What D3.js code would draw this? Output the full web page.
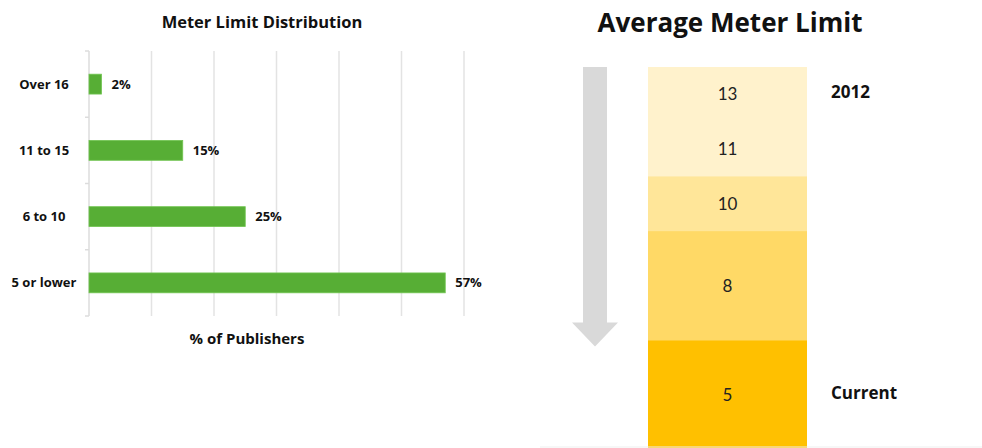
<!DOCTYPE html>
<html>
<head>
<meta charset="utf-8">
<script src="https://cdn.jsdelivr.net/npm/d3@7"></script>
<style>
  body { margin: 0; background: #fff; }
  svg { display: block; font-family: "Open Sans", Lato, sans-serif; }
</style>
</head>
<body>
<script>
// Meter limit distribution (left chart)
const categories = ['Over 16', '11 to 15', '6 to 10', '5 or lower']
const shares = [2, 15, 25, 57]
const xTicks = [0, 10, 20, 30, 40, 50, 60]

// Average meter limit (right column), top to bottom
const limits = [13, 11, 10, 8, 5]
const limitTier = [0, 0, 1, 2, 3]
const limitSpan = [1, 1, 1, 2, 2]
const sideLabels = [{ text: '2012', row: 0 }, { text: 'Current', row: 4 }]

const width = 982, height = 448

const svg = d3.select('body').append('svg')
  .attr('width', width)
  .attr('height', height)

// ---------- left bar chart ----------
const margin = { top: 51, left: 89 }
const plotW = 375, plotH = 265

const x = d3.scaleLinear().domain([0, 60]).range([0, plotW])
const y = d3.scaleBand()
  .domain(categories)
  .range([0, plotH])
  .paddingInner(0.7)
  .paddingOuter(0.35)

const left = svg.append('g')
  .attr('transform', `translate(${margin.left}, ${margin.top})`)

// gridlines
left.append('g')
  .selectAll('line')
  .data(xTicks.slice(1))
  .enter().append('line')
  .attr('x1', d => x(d))
  .attr('x2', d => x(d))
  .attr('y1', 0)
  .attr('y2', plotH)
  .attr('stroke', '#e3e3e3')
  .attr('stroke-width', 1.5)

// left axis line with ticks at band boundaries
left.append('line')
  .attr('x1', 0).attr('x2', 0)
  .attr('y1', 0).attr('y2', plotH)
  .attr('stroke', '#dcdcdc')
  .attr('stroke-width', 1.5)

const boundaries = d3.range(categories.length + 1).map(i => i * y.step())
left.append('g')
  .selectAll('line')
  .data(boundaries)
  .enter().append('line')
  .attr('x1', -4).attr('x2', 0)
  .attr('y1', d => d).attr('y2', d => d)
  .attr('stroke', '#dcdcdc')
  .attr('stroke-width', 1.5)

// bars
left.append('g')
  .selectAll('rect')
  .data(shares)
  .enter().append('rect')
  .attr('x', 0)
  .attr('y', (d, i) => y(categories[i]))
  .attr('width', d => x(d))
  .attr('height', y.bandwidth())
  .attr('fill', '#57ae35')
  .attr('stroke', '#72c552')
  .attr('stroke-width', 0.8)

// value labels
left.append('g')
  .selectAll('text')
  .data(shares)
  .enter().append('text')
  .attr('x', d => x(d) + 10)
  .attr('y', (d, i) => y(categories[i]) + y.bandwidth() / 2)
  .attr('dy', '0.35em')
  .attr('font-size', 13)
  .attr('font-weight', 'bold')
  .attr('fill', '#111')
  .text(d => d + '%')

// category labels
left.append('g')
  .selectAll('text')
  .data(categories)
  .enter().append('text')
  .attr('x', 44 - margin.left)
  .attr('y', d => y(d) + y.bandwidth() / 2)
  .attr('dy', '0.35em')
  .attr('text-anchor', 'middle')
  .attr('font-size', 13)
  .attr('font-weight', 'bold')
  .attr('fill', '#111')
  .text(d => d)

svg.append('text')
  .attr('x', 262)
  .attr('y', 28)
  .attr('text-anchor', 'middle')
  .attr('font-size', 16.5)
  .attr('font-weight', 'bold')
  .attr('fill', '#111')
  .text('Meter Limit Distribution')

svg.append('text')
  .attr('x', 247)
  .attr('y', 344)
  .attr('text-anchor', 'middle')
  .attr('font-size', 15)
  .attr('font-weight', 'bold')
  .attr('fill', '#111')
  .text('% of Publishers')

// ---------- right column ----------
const colX = 648, colW = 159, colTop = 67
const starts = limitSpan.map((s, i) => d3.sum(limitSpan.slice(0, i)))
const rows = d3.scaleLinear().domain([0, 1]).range([colTop, colTop + 54.7])
const tierColor = d3.scaleOrdinal()
  .domain([0, 1, 2, 3])
  .range(['#fff2cc', '#ffe699', '#ffd966', '#ffc000'])

const right = svg.append('g')

right.append('text')
  .attr('x', 730)
  .attr('y', 32)
  .attr('text-anchor', 'middle')
  .attr('font-size', 26)
  .attr('font-weight', 'bold')
  .attr('fill', '#111')
  .text('Average Meter Limit')

right.append('g')
  .selectAll('rect')
  .data(limits)
  .enter().append('rect')
  .attr('x', colX)
  .attr('y', (d, i) => rows(starts[i]))
  .attr('width', colW)
  .attr('height', (d, i) => rows(starts[i] + limitSpan[i]) - rows(starts[i]) + 0.5)
  .attr('fill', (d, i) => tierColor(limitTier[i]))

right.append('g')
  .selectAll('text')
  .data(limits)
  .enter().append('text')
  .attr('x', colX + colW / 2)
  .attr('y', (d, i) => rows(starts[i] + limitSpan[i] / 2))
  .attr('dy', '0.35em')
  .attr('text-anchor', 'middle')
  .attr('font-family', 'Lato, sans-serif')
  .attr('font-size', 17)
  .attr('fill', '#222')
  .text(d => d)

right.append('g')
  .selectAll('text')
  .data(sideLabels)
  .enter().append('text')
  .attr('x', 831)
  .attr('y', d => rows(starts[d.row] + limitSpan[d.row] / 2) - 2)
  .attr('dy', '0.35em')
  .attr('font-size', 17)
  .attr('font-weight', 'bold')
  .attr('fill', '#111')
  .text(d => d.text)

// grey down arrow alongside the column
const ax = 595, shaft = 12, head = 23
const arrowBottom = rows(starts[4]) + 6
const arrow = d3.path()
arrow.moveTo(ax - shaft, colTop)
arrow.lineTo(ax + shaft, colTop)
arrow.lineTo(ax + shaft, arrowBottom - 24)
arrow.lineTo(ax + head, arrowBottom - 24)
arrow.lineTo(ax, arrowBottom)
arrow.lineTo(ax - head, arrowBottom - 24)
arrow.lineTo(ax - shaft, arrowBottom - 24)
arrow.closePath()
right.append('path')
  .attr('d', arrow.toString())
  .attr('fill', '#d9d9d9')

// faint line at the bottom edge
svg.append('line')
  .attr('x1', 540).attr('x2', width)
  .attr('y1', 447).attr('y2', 447)
  .attr('stroke', '#efefef')
  .attr('stroke-width', 1)
</script>
</body>
</html>
